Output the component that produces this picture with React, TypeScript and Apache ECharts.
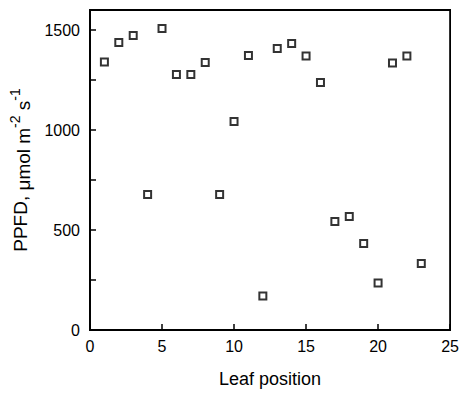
import React, { useEffect, useRef } from "react";
import * as echarts from "echarts";

const leafPositions = [1, 2, 3, 4, 5, 6, 7, 8, 9, 10, 11, 12, 13, 14, 15, 16, 17, 18, 19, 20, 21, 22, 23];
const ppfdValues = [1340, 1437, 1472, 678, 1507, 1277, 1277, 1337, 678, 1042, 1372, 170, 1407, 1433, 1370, 1238, 542, 567, 433, 235, 1335, 1370, 333];
const xTickLabels = ["0", "5", "10", "15", "20", "25"];
const yTickLabels = ["0", "500", "1000", "1500"];

const FONT = "'Liberation Sans', Arial, Helvetica, sans-serif";

export default function App() {
  const ref = useRef<HTMLDivElement>(null);
  useEffect(() => {
    if (!ref.current) return;
    const chart = echarts.init(ref.current, null, { renderer: "svg" });
    const data = leafPositions.map((x, i) => [x, ppfdValues[i]]);
    chart.setOption({
      animation: false,
      backgroundColor: "#fff",
      textStyle: { fontFamily: FONT, color: "#000" },
      grid: {
        left: 88,
        right: 10,
        top: 10,
        bottom: 64,
        show: true,
        borderColor: "#000",
        borderWidth: 1.8,
        backgroundColor: "transparent",
      },
      xAxis: {
        type: "value",
        min: 0,
        max: 25,
        interval: 5,
        name: "Leaf position",
        nameLocation: "middle",
        nameGap: 40,
        nameTextStyle: { fontSize: 18, color: "#000", fontFamily: FONT },
        axisLine: { show: true, lineStyle: { color: "#000", width: 1.8 } },
        axisTick: { show: true, inside: true, length: 6, lineStyle: { color: "#000", width: 1.5 } },
        axisLabel: {
          color: "#000",
          fontSize: 16,
          fontFamily: FONT,
          margin: 8,
          formatter: (v: number) => (xTickLabels.includes(String(v)) ? String(v) : ""),
        },
        splitLine: { show: false },
      },
      yAxis: {
        type: "value",
        min: 0,
        max: 1600,
        interval: 250,
        name: "PPFD, {n|μmol m}{sup|-2}{n| s}{sup|-1}",
        nameLocation: "middle",
        nameRotate: 90,
        nameGap: 57,
        nameTextStyle: {
          fontSize: 19,
          color: "#000",
          fontFamily: FONT,
          lineHeight: 25,
          rich: {
            n: { fontSize: 19, color: "#000", fontFamily: FONT, lineHeight: 25, verticalAlign: "bottom" },
            sup: { fontSize: 14, color: "#000", fontFamily: FONT, lineHeight: 25, verticalAlign: "top" },
          },
        },
        axisLine: { show: true, lineStyle: { color: "#000", width: 1.8 } },
        axisTick: { show: true, inside: true, length: 6, lineStyle: { color: "#000", width: 1.5 } },
        axisLabel: {
          color: "#000",
          fontSize: 16,
          fontFamily: FONT,
          margin: 10,
          formatter: (v: number) => (yTickLabels.includes(String(v)) ? String(v) : ""),
        },
        splitLine: { show: false },
      },
      series: [
        {
          type: "scatter",
          data,
          symbol: "rect",
          symbolSize: 7,
          itemStyle: { color: "#fff", borderColor: "#000", borderWidth: 2 },
        },
      ],
    });
    return () => chart.dispose();
  }, []);
  return (
    <div
      ref={ref}
      style={{ position: "fixed", left: 0, top: 0, width: 462, height: 394, background: "#fff" }}
    />
  );
}
